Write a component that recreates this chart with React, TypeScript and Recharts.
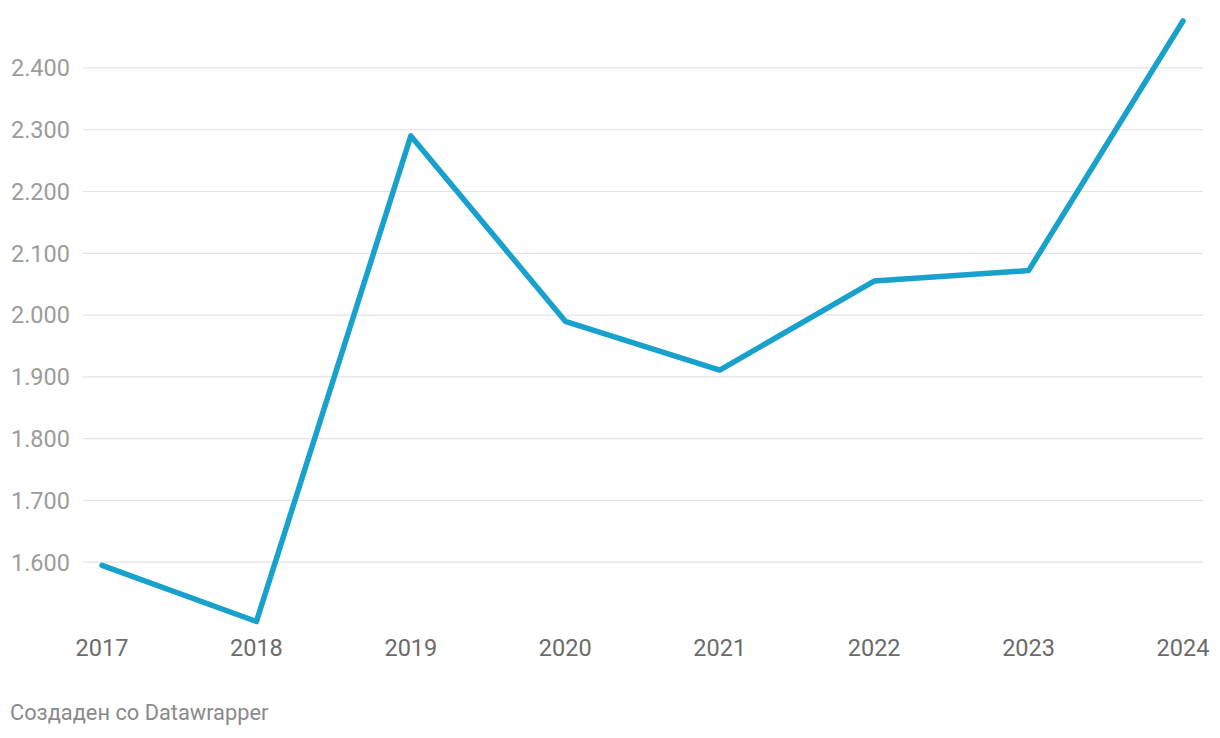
import { CartesianGrid, Line, LineChart, XAxis, YAxis } from "recharts";

const years = ["2017", "2018", "2019", "2020", "2021", "2022", "2023", "2024"];
const values = [1595, 1504, 2290, 1990, 1911, 2055, 2072, 2476];
const yTicks = [1600, 1700, 1800, 1900, 2000, 2100, 2200, 2300, 2400];

const chartData = years.map((y, i) => ({ year: y, value: values[i] }));

const fmt = (v: number) => (v / 1000).toFixed(3);

export default function App() {
  return (
    <div style={{ position: "absolute", left: 0, top: 0, width: 1220, height: 738, background: "#fff", fontFamily: "Roboto, sans-serif" }}>
      <LineChart
        width={1220}
        height={690}
        data={chartData}
        margin={{ top: 21, right: 17, bottom: 36, left: 0 }}
      >
        <CartesianGrid vertical={false} horizontalValues={yTicks} stroke="#e3e3e3" strokeWidth={1.2} />
        <XAxis
          dataKey="year"
          axisLine={false}
          tickLine={false}
          tickSize={0}
          tickMargin={15}
          padding={{ left: 19, right: 20 }}
          tick={{ fontSize: 23.5, fill: "#6b6b6b", fontFamily: "Roboto" }}
          height={30}
        />
        <YAxis
          domain={[1500, 2476]}
          ticks={yTicks}
          tickFormatter={fmt}
          axisLine={false}
          tickLine={false}
          tickSize={0}
          tickMargin={13}
          width={83}
          tick={{ fontSize: 23.5, fill: "#9c9c9c", fontFamily: "Roboto" }}
        />
        <Line
          type="linear"
          dataKey="value"
          stroke="#18a1cd"
          strokeWidth={5.5}
          strokeLinecap="round"
          strokeLinejoin="round"
          dot={false}
          activeDot={false}
          isAnimationActive={false}
        />
      </LineChart>
      <div style={{ position: "absolute", left: 10, top: 700, fontSize: 21.8, color: "#8a8a8a", fontFamily: "Roboto" }}>
        Создаден со Datawrapper
      </div>
    </div>
  );
}
